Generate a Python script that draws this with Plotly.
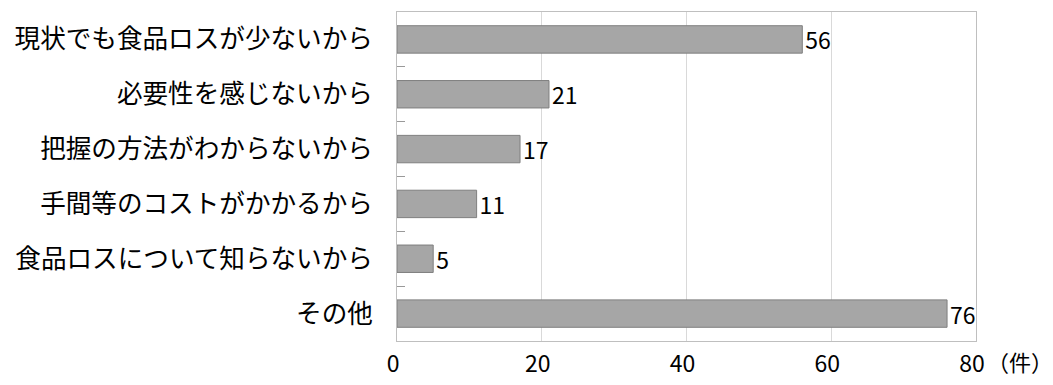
import plotly.graph_objects as go

# 回答理由と件数
reasons = [
    "現状でも食品ロスが少ないから",
    "必要性を感じないから",
    "把握の方法がわからないから",
    "手間等のコストがかかるから",
    "食品ロスについて知らないから",
    "その他",
]
counts = [56, 21, 17, 11, 5, 76]
x_ticks = [0, 20, 40, 60, 80]
unit = "（件）"

font_family = "Noto Sans CJK JP"

fig = go.Figure()
fig.add_trace(go.Bar(
    x=counts,
    y=reasons,
    orientation="h",
    width=0.5,
    marker=dict(color="#a6a6a6", line=dict(color="#7f7f7f", width=1)),
    text=[str(c) for c in counts],
    textposition="outside",
    constraintext="none",
    textfont=dict(size=23, color="black", family=font_family),
    cliponaxis=False,
))

fig.update_layout(
    width=1053,
    height=385,
    margin=dict(l=397, r=77, t=12, b=44),
    plot_bgcolor="white",
    paper_bgcolor="white",
    showlegend=False,
    font=dict(family=font_family, size=23, color="black"),
    xaxis=dict(
        range=[0, 80],
        tickvals=x_ticks,
        ticktext=[str(v) for v in x_ticks],
        showgrid=True,
        gridcolor="#d9d9d9",
        showline=True,
        mirror=True,
        linecolor="#bfbfbf",
        ticks="",
        zeroline=False,
        tickfont=dict(size=23),
        ticklabelstandoff=2,
        ticklabelshift=-4,
        automargin=False,
    ),
    yaxis=dict(
        autorange="reversed",
        showline=True,
        mirror=True,
        linecolor="#bfbfbf",
        ticks="inside",
        tickson="boundaries",
        ticklen=8,
        tickcolor="#999999",
        showgrid=False,
        tickfont=dict(size=25.6),
        ticklabelstandoff=18,
        automargin=False,
    ),
)

# 単位表示
fig.add_annotation(
    x=80, y=0, xref="x", yref="paper",
    text=unit, showarrow=False,
    xanchor="left", yanchor="middle",
    xshift=9, yshift=-20,
    font=dict(size=22, family=font_family),
)

# ページ既定の余白を消して、図をウィンドウ全体に合わせる
fig.write_html(
    "out.html",
    config={"displayModeBar": False},
    post_script="document.body.style.margin='0';",
)
